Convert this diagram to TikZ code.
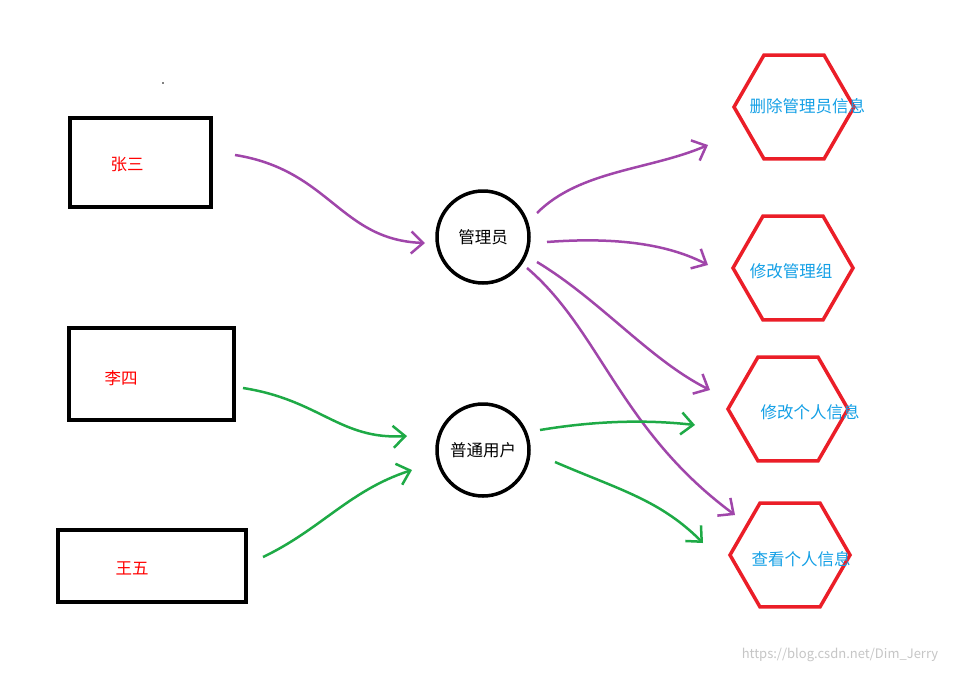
\documentclass[tikz,border=0pt]{standalone}
\usepackage{fontspec}
\setmainfont{Noto Sans CJK SC}
\usetikzlibrary{shapes.geometric,arrows.meta}
\definecolor{pur}{RGB}{160,70,170}
\definecolor{grn}{RGB}{30,170,70}
\definecolor{hexred}{RGB}{235,30,40}
\definecolor{txtblue}{RGB}{20,160,230}
\begin{document}
\begin{tikzpicture}[x=1pt,y=-1pt,
  box/.style={draw,line width=3.5pt,inner sep=0},
  circ/.style={circle,draw,line width=3.5pt,minimum size=92pt,inner sep=0,font=\fontsize{16.5}{16.5}\selectfont},
  hex/.style={regular polygon,regular polygon sides=6,shape border rotate=0,draw=hexred,line width=3.5pt,minimum size=120pt,inner sep=0},
  lbl/.style={font=\fontsize{16.5}{16.5}\selectfont},
  rl/.style={lbl,text=red},
  bl/.style={lbl,text=txtblue},
  pa/.style={pur,line width=2.5pt,-{Straight Barb[length=12pt,width=22pt]}},
  ga/.style={grn,line width=2.5pt,-{Straight Barb[length=12pt,width=22pt]}}]
\useasboundingbox (0,0) rectangle (958,673);
\fill[white] (0,0) rectangle (958,673);
\node[box,minimum width=141pt,minimum height=89pt] (zs) at (140.5,162.5) {};
\node[rl] (zst) at (127,164) {张三};
\node[box,minimum width=165pt,minimum height=92pt] (ls) at (151.5,374) {};
\node[rl] (lst) at (121,378) {李四};
\node[box,minimum width=188pt,minimum height=72pt] (ww) at (152,566) {};
\node[rl] (wwt) at (132,568) {王五};
\node[circ] (gly) at (483,237) {管理员};
\node[circ] (pt) at (483,450) {普通用户};
\node[hex] (h1) at (794,107) {};
\node[bl,anchor=west] (h1t) at (746,106) {删除管理员信息};
\node[hex] (h2) at (793,268) {};
\node[bl] (h2t) at (791,271) {修改管理组};
\node[hex] (h3) at (788,409) {};
\node[bl] (h3t) at (810,412) {修改个人信息};
\node[hex] (h4) at (790,555) {};
\node[bl] (h4t) at (801,559) {查看个人信息};
\fill (163,83) circle (0.8pt);
\coordinate (watermark) at (840,655);
\node[text=gray!45,font=\fontsize{13}{13}\selectfont] at (watermark) {https://blog.csdn.net/Dim\_Jerry};
% purple
\draw[pa] (235,155) .. controls (330,170) and (340,240) .. (425,243);
\draw[pa] (537,213) .. controls (580,170) and (650,170) .. (708,145);
\draw[pa] (547,242) .. controls (600,238) and (660,240) .. (708,265);
\draw[pa] (537,262) .. controls (600,300) and (650,360) .. (710,390);
\draw[pa] (527,268) .. controls (600,330) and (620,430) .. (735,515);
% green
\draw[ga] (243,388) .. controls (320,400) and (340,440) .. (407,436);
\draw[ga] (263,557) .. controls (320,530) and (350,490) .. (412,470);
\draw[ga] (540,430) .. controls (600,420) and (650,420) .. (695,425);
\draw[ga] (555,462) .. controls (620,490) and (660,500) .. (703,543);
\end{tikzpicture}
\end{document}
